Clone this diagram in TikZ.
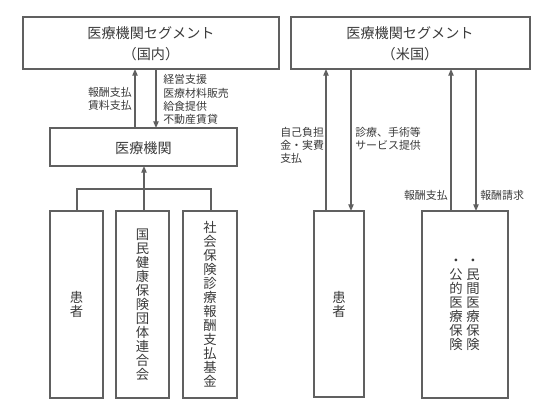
\documentclass[tikz,border=0pt]{standalone}
\usepackage{fontspec}
\setmainfont{Noto Sans CJK JP}
\usetikzlibrary{arrows.meta}
\definecolor{ln}{HTML}{606060}
\definecolor{tx}{HTML}{3A3A3A}
\tikzset{
  box/.style={draw=ln, line width=0.9pt, inner sep=0pt},
  conn/.style={draw=ln, line width=0.9pt},
  arr/.style={conn, -{Triangle[length=5pt,width=4pt]}},
  lbl/.style={text=tx, font=\fontsize{8.2pt}{9.9pt}\selectfont, inner sep=0pt},
  ttl/.style={text=tx, font=\fontsize{10.6pt}{16pt}\selectfont, align=center, inner sep=0pt},
  vtx/.style={text=tx, font=\fontsize{10pt}{10.5pt}\selectfont, align=center, inner sep=0pt},
}
\begin{document}
\begin{tikzpicture}[x=0.75pt,y=-0.75pt]
\useasboundingbox (0,0) rectangle (558,411);
% top boxes
\draw[box] (23,17) rectangle (279,69);
\node[ttl] (t1) at (151,44) {医療機関セグメント\\（国内）};
\draw[box] (291,17) rectangle (530,69);
\node[ttl] (t2) at (410,44) {医療機関セグメント\\（米国）};
% medical institution
\draw[box] (50,128) rectangle (237,166);
\node[text=tx, font=\fontsize{10.6pt}{12pt}\selectfont] (mi) at (143.5,148) {医療機関};
% left arrows
\coordinate (a1b) at (135,128); \coordinate (a1t) at (135,69);
\coordinate (a2t) at (156,69); \coordinate (a2b) at (156,128);
\draw[arr] (a1b) -- (a1t);
\draw[arr] (a2t) -- (a2b);
\node[lbl, anchor=east, align=right] (l1) at (132,99) {報酬支払\\賃料支払};
\node[lbl, anchor=west, align=left] (l2) at (163,99.5) {経営支援\\医療材料販売\\給食提供\\不動産賃貸};
% bottom-left boxes
\draw[box] (50,211) rectangle (103,398);
\draw[box] (116,211) rectangle (169,398);
\draw[box] (183,211) rectangle (237,398);
\node[vtx] (p1) at (76.5,304.5) {患\\者};
\node[vtx] (p2) at (142.5,304.5) {国\\民\\健\\康\\保\\険\\団\\体\\連\\合\\会};
\node[vtx] (p3) at (210,304.5) {社\\会\\保\\険\\診\\療\\報\\酬\\支\\払\\基\\金};
% bracket
\coordinate (b1) at (77,211); \coordinate (b1u) at (77,189);
\coordinate (b3) at (211,211); \coordinate (b3u) at (211,189);
\coordinate (b2) at (144,211); \coordinate (b2u) at (144,189);
\coordinate (mib) at (144,166);
\draw[conn] (b1) -- (b1u) -- (b3u) -- (b3);
\draw[conn] (b2) -- (b2u);
\draw[arr] (b2u) -- (mib);
% right side
\draw[box] (314,211) rectangle (364,397);
\node[vtx] (rp) at (339,304) {患\\者};
\draw[box] (422,211) rectangle (508,398);
\node[vtx] (ins1) at (473,304.5) {・\\民\\間\\医\\療\\保\\険};
\node[vtx] (ins2) at (456,304.5) {・\\公\\的\\医\\療\\保\\険};
\coordinate (r1b) at (326,211); \coordinate (r1t) at (326,69);
\coordinate (r2t) at (351,69); \coordinate (r2b) at (351,211);
\coordinate (r3b) at (451,211); \coordinate (r3t) at (451,69);
\coordinate (r4t) at (476,69); \coordinate (r4b) at (476,211);
\draw[arr] (r1b) -- (r1t);
\draw[arr] (r2t) -- (r2b);
\draw[arr] (r3b) -- (r3t);
\draw[arr] (r4t) -- (r4b);
\node[lbl, anchor=north west, align=left] (rl1) at (280,127) {自己負担\\金・実費\\支払};
\node[lbl, anchor=north west, align=left] (rl2) at (355,127) {診療、手術等\\サービス提供};
\node[lbl, anchor=east] (rl3) at (448,195) {報酬支払};
\node[lbl, anchor=west] (rl4) at (480,195) {報酬請求};
\end{tikzpicture}
\end{document}
